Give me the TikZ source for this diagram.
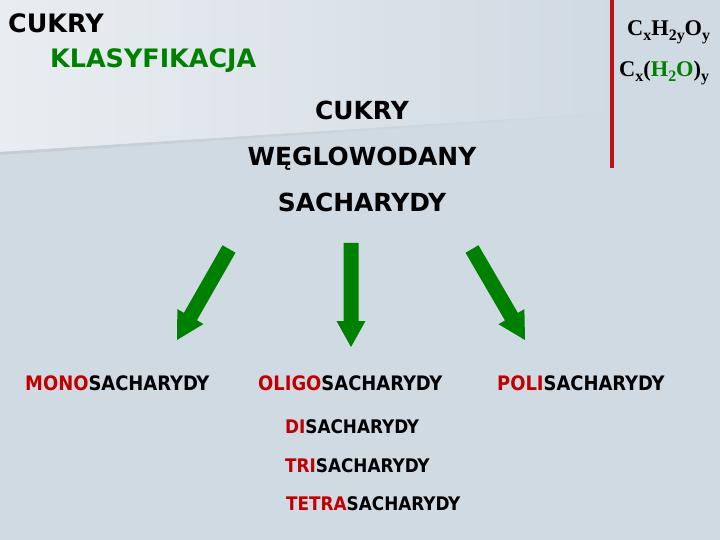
\documentclass[tikz,border=0pt]{standalone}
\usepackage{fontspec}
\setmainfont{DejaVu Sans}
\newfontfamily\condfont{DejaVu Sans Condensed}
\newfontfamily\tmsfont{Liberation Serif}
\usetikzlibrary{calc}
\definecolor{bgcol}{RGB}{208,218,226}
\definecolor{lightcol}{RGB}{233,237,241}
\definecolor{edgecol}{RGB}{196,205,212}
\definecolor{greentxt}{RGB}{0,128,0}
\definecolor{arrowgreen}{RGB}{0,128,0}
\definecolor{redtxt}{RGB}{192,0,0}
\definecolor{redline}{RGB}{192,16,24}
\newcommand{\mysub}[1]{\raisebox{-5bp}{\fontsize{16}{16}\selectfont #1}}
\tikzset{
  toptitle/.style={anchor=base west, inner sep=0pt, font=\fontsize{25.5}{27}\selectfont\bfseries},
  centertitle/.style={anchor=base, inner sep=0pt, font=\fontsize{25}{27}\selectfont\bfseries},
  cat/.style={anchor=base west, inner sep=0pt, font=\condfont\fontsize{20}{22}\selectfont\bfseries},
  subcat/.style={anchor=base west, inner sep=0pt, font=\condfont\fontsize{18.8}{20}\selectfont\bfseries},
  formula/.style={anchor=base west, inner sep=0pt, font=\tmsfont\fontsize{22.5}{24}\selectfont\bfseries},
}
\newcommand{\blockarrow}[5]{% tail, tip, half shaft, half head, head length
  \coordinate (#1neck) at ($(#2)!#5!(#1)$);
  \fill[arrowgreen] ($(#1)!#3!90:(#2)$) -- ($(#1neck)!#3!90:(#2)$) -- ($(#1neck)!#4!90:(#2)$) -- (#2)
    -- ($(#1neck)!#4!-90:(#2)$) -- ($(#1neck)!#3!-90:(#2)$) -- ($(#1)!#3!-90:(#2)$) -- cycle;
}
\begin{document}
\begin{tikzpicture}[x=1bp,y=-1bp]
\useasboundingbox (0,0) rectangle (720,540);
\fill[bgcol] (0,0) rectangle (720,540);
\shade[left color=lightcol, right color=bgcol] (0,0) -- (620,0) -- (620,112) -- (0,152) -- cycle;
\shade[left color=edgecol, right color=bgcol, draw=none] (0,152) -- (620,112) -- (620,113.5) -- (0,155) -- cycle;
% red line
\draw[redline, line width=4bp] (612,0) -- (612,168);
% titles
\node[toptitle] (t1) at (8,33) {CUKRY};
\node[toptitle, text=greentxt] (t2) at (50,68) {KLASYFIKACJA};
\node[centertitle] (c1) at (362,120) {CUKRY};
\node[centertitle] (c2) at (362,166) {WĘGLOWODANY};
\node[centertitle] (c3) at (362,212) {SACHARYDY};
% formulas
\node[formula] (f1) at (627,36) {C\mysub{x}H\mysub{2y}O\mysub{y}};
\node[formula] (f2) at (619,77) {C\mysub{x}(\textcolor{greentxt}{H\mysub{2}O})\mysub{y}};
% arrows
\coordinate (a1s) at (229,249); \coordinate (a1e) at (177,340);
\coordinate (a2s) at (351,243); \coordinate (a2e) at (351,347);
\coordinate (a3s) at (472,249); \coordinate (a3e) at (525,340);
\blockarrow{a1s}{a1e}{7.5bp}{15bp}{27bp}
\blockarrow{a2s}{a2e}{7.5bp}{14.5bp}{26bp}
\blockarrow{a3s}{a3e}{7.5bp}{15bp}{27bp}
% categories
\node[cat] (mono) at (25,390) {\textcolor{redtxt}{MONO}SACHARYDY};
\node[cat] (oligo) at (258,390) {\textcolor{redtxt}{OLIGO}SACHARYDY};
\node[cat] (poli) at (497,390) {\textcolor{redtxt}{POLI}SACHARYDY};
\node[subcat] (di) at (285,433) {\textcolor{redtxt}{DI}SACHARYDY};
\node[subcat] (tri) at (285,472) {\textcolor{redtxt}{TRI}SACHARYDY};
\node[subcat] (tetra) at (286,510) {\textcolor{redtxt}{TETRA}SACHARYDY};
\end{tikzpicture}
\end{document}
